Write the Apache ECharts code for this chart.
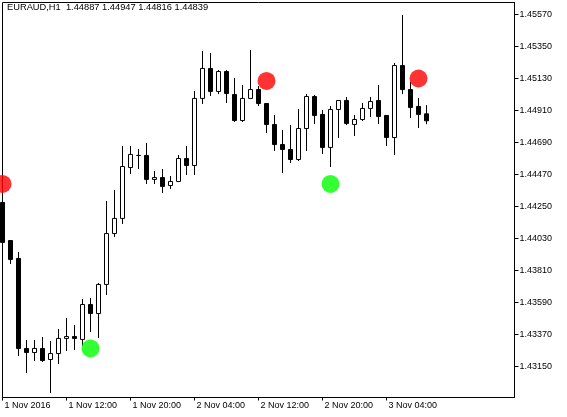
<!DOCTYPE html>
<html><head><meta charset="utf-8">
<script src="https://cdn.jsdelivr.net/npm/echarts@6/dist/echarts.min.js"></script>
<style>html,body{margin:0;padding:0;background:#fff}#c{width:567px;height:417px}</style>
</head><body><div id="c"></div><script>
// OHLC per H1 bar (bar 0 = first visible bar)
const opens  = [1.44278,1.44016,1.43893,1.43274,1.43246,1.43274,1.43198,1.43239,1.43343,1.43356,
                1.43336,1.43576,1.43514,1.43714,1.44064,1.44168,1.44518,1.44601,1.44601,1.44436,
                1.44449,1.44394,1.44422,1.44580,1.44532,1.44993,1.45199,1.45041,1.45178,1.45020,
                1.44841,1.44993,1.45054,1.44958,1.44814,1.44676,1.44642,1.44573,1.44786,1.45006,
                1.44883,1.44656,1.44917,1.44979,1.44814,1.44848,1.44924,1.44979,1.44876,1.44724,
                1.45219,1.45054,1.44938,1.44887];
const highs  = [1.44322,1.44020,1.43937,1.43332,1.43332,1.43353,1.43325,1.43408,1.43483,1.43435,
                1.43614,1.43621,1.43724,1.44288,1.44363,1.44666,1.44666,1.44645,1.44687,1.44494,
                1.44508,1.44460,1.44604,1.44666,1.45044,1.45319,1.45305,1.45188,1.45188,1.45133,
                1.45085,1.45326,1.45078,1.44958,1.44879,1.44776,1.44810,1.44920,1.45023,1.45017,
                1.44913,1.44941,1.44982,1.45003,1.44879,1.44962,1.45003,1.45085,1.44879,1.45237,
                1.45567,1.45106,1.44996,1.44947];
const lows   = [1.43985,1.43855,1.43222,1.43105,1.43188,1.43181,1.42968,1.43167,1.43257,1.43263,
                1.43291,1.43387,1.43346,1.43642,1.44040,1.44130,1.44473,1.44508,1.44405,1.44405,
                1.44343,1.44370,1.44418,1.44467,1.44467,1.44955,1.45010,1.45023,1.44962,1.44831,
                1.44831,1.44993,1.44941,1.44755,1.44632,1.44480,1.44549,1.44563,1.44632,1.44817,
                1.44611,1.44522,1.44721,1.44810,1.44735,1.44838,1.44865,1.44817,1.44666,1.44604,
                1.45023,1.44858,1.44790,1.44816];
const closes = [1.44003,1.43886,1.43274,1.43246,1.43274,1.43191,1.43239,1.43343,1.43356,1.43343,
                1.43576,1.43514,1.43714,1.44064,1.44168,1.44525,1.44608,1.44601,1.44436,1.44449,
                1.44388,1.44422,1.44580,1.44532,1.44993,1.45199,1.45041,1.45178,1.45027,1.44841,
                1.44993,1.45054,1.44958,1.44814,1.44676,1.44642,1.44573,1.44786,1.45006,1.44876,
                1.44656,1.44917,1.44979,1.44821,1.44848,1.44924,1.44972,1.44869,1.44724,1.45219,
                1.45054,1.44931,1.44883,1.44839];
const tickLabels = ['1 Nov 2016','1 Nov 12:00','1 Nov 20:00','2 Nov 04:00','2 Nov 12:00','2 Nov 20:00','3 Nov 04:00'];
const labelEvery = 8;
const emptySlots = 11; // chart shift space at the right
const yTicks = [1.43150,1.43370,1.43590,1.43810,1.44030,1.44250,1.44470,1.44690,1.44910,1.45130,1.45350,1.45570];
const yMin = 1.42936875, yMax = 1.456525;
const redIdx = [0, 33, 52];
const redVal = [1.44405, 1.45113, 1.45130];
const greenIdx = [11, 41];
const greenVal = [1.43274, 1.44405];
const titleText = 'EURAUD,H1  1.44887 1.44947 1.44816 1.44839';

const n = opens.length + emptySlots;
const categories = [];
for (let i = 0; i < n; i++) categories.push(String(i));
const candles = opens.map((o, i) => [o, closes[i], lows[i], highs[i]]);
const FONT = '"Liberation Sans", Arial, sans-serif';
const maxLabeled = (tickLabels.length - 1) * labelEvery;

const chart = echarts.init(document.getElementById('c'), null, {renderer: 'canvas'});
chart.setOption({
  animation: false,
  backgroundColor: '#fff',
  graphic: [{
    type: 'text', left: 7, top: 3, z: 100,
    style: {text: titleText, font: '9.3px ' + FONT, fill: '#000'}
  }],
  grid: {left: 2.5, right: 52.5, top: 2.5, bottom: 19.5, show: true, borderColor: '#000', borderWidth: 1, backgroundColor: '#fff'},
  xAxis: {
    type: 'category', data: categories, boundaryGap: false,
    axisLine: {show: true, lineStyle: {color: '#000', width: 1}},
    axisTick: {show: true, length: 3, lineStyle: {color: '#000'},
      interval: (i) => i % labelEvery === 0 && i <= maxLabeled},
    axisLabel: {
      interval: (i) => i % labelEvery === 0 && i <= maxLabeled,
      formatter: (v, i) => tickLabels[i / labelEvery] || '',
      align: 'left', verticalAlign: 'top', margin: 4, padding: [0, 0, 0, 2],
      color: '#000', fontSize: 9, fontFamily: FONT, showMinLabel: true, hideOverlap: false
    },
    splitLine: {show: false}
  },
  yAxis: {
    type: 'value', position: 'right', min: yMin, max: yMax, scale: true,
    axisLine: {show: true, lineStyle: {color: '#000', width: 1}},
    axisTick: {show: true, length: 4, lineStyle: {color: '#000'}, customValues: yTicks},
    axisLabel: {customValues: yTicks, formatter: (v) => v.toFixed(5), margin: 5,
      color: '#000', fontSize: 9, fontFamily: FONT},
    splitLine: {show: false}
  },
  series: [{
    type: 'candlestick', data: candles, barWidth: 4,
    itemStyle: {color: '#ffffff', color0: '#000000', borderColor: '#000000', borderColor0: '#000000', borderColorDoji: '#000000', borderWidth: 1},
    emphasis: {disabled: true}
  }, {
    type: 'scatter', symbol: 'circle', symbolSize: 18,
    data: redIdx.map((x, i) => [x, redVal[i]]),
    itemStyle: {color: '#ff0000'}, z: 5
  }, {
    type: 'scatter', symbol: 'circle', symbolSize: 18,
    data: greenIdx.map((x, i) => [x, greenVal[i]]),
    itemStyle: {color: '#00ff00'}, z: 5
  }]
});
</script></body></html>
